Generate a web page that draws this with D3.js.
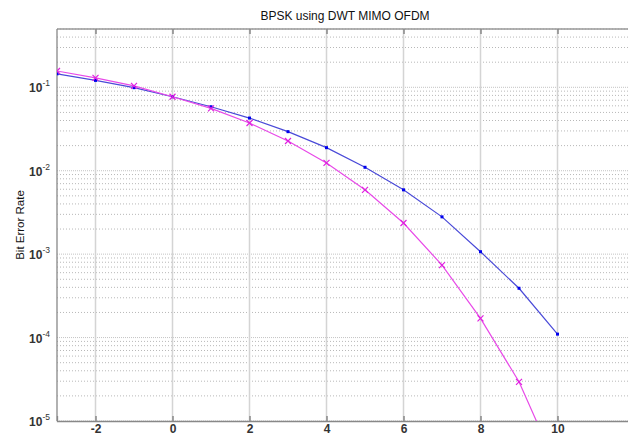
<!DOCTYPE html>
<html>
<head>
<meta charset="utf-8">
<script src="https://cdn.jsdelivr.net/npm/d3@7"></script>
<style>
  body { margin: 0; background: #fff; }
  text { font-family: "Liberation Sans", Arial, sans-serif; }
</style>
</head>
<body>
<div id="chart"></div>
<script>
// data
var snr = [-3, -2, -1, 0, 1, 2, 3, 4, 5, 6, 7, 8, 9, 10];
var berBlue = [0.145, 0.121, 0.099, 0.077, 0.0585, 0.0428, 0.0294, 0.0189, 0.011, 0.0059, 0.0028, 0.00107, 0.00039, 0.00011];
var berMagenta = [0.157, 0.130, 0.104, 0.077, 0.056, 0.0373, 0.0227, 0.0124, 0.0059, 0.00236, 0.00074, 0.00017, 0.0000295, 0.0000027];
var xTicks = [-2, 0, 2, 4, 6, 8, 10];
var yDecades = [-5, -4, -3, -2, -1];

// set the dimensions and margins of the graph
var W = 628, H = 437;
var margin = {top: 29, left: 57, bottom: 16},
    plotRight = 634.5;

var x = d3.scaleLinear().domain([-3, 12]).range([margin.left, plotRight]);
var y = d3.scaleLog().domain([1e-5, 0.5]).range([H - margin.bottom, margin.top]);

var svg = d3.select("#chart").append("svg")
    .attr("width", W)
    .attr("height", H);

svg.append("clipPath").attr("id", "clip")
  .append("rect")
    .attr("x", margin.left)
    .attr("y", margin.top)
    .attr("width", plotRight - margin.left)
    .attr("height", y.range()[0] - margin.top);

var grid = svg.append("g");

// minor y grid (dotted)
var minors = [];
yDecades.forEach(function(e) {
  for (var k = 2; k <= 9; k++) {
    var v = k * Math.pow(10, e);
    if (v <= 0.5) minors.push(v);
  }
});
grid.selectAll(".minor")
    .data(minors)
  .enter().append("line")
    .attr("x1", margin.left).attr("x2", plotRight)
    .attr("y1", function(d) { return y(d); })
    .attr("y2", function(d) { return y(d); })
    .style("stroke", "#b8b8b8")
    .style("stroke-width", 1)
    .style("stroke-dasharray", "1,2");

// decade y grid
grid.selectAll(".major")
    .data(yDecades)
  .enter().append("line")
    .attr("x1", margin.left).attr("x2", plotRight)
    .attr("y1", function(d) { return y(Math.pow(10, d)); })
    .attr("y2", function(d) { return y(Math.pow(10, d)); })
    .style("stroke", "#c4c4c4")
    .style("stroke-width", 1)
    .style("stroke-dasharray", "1,1");

// x grid
grid.selectAll(".xg")
    .data(xTicks)
  .enter().append("line")
    .attr("x1", function(d) { return x(d); })
    .attr("x2", function(d) { return x(d); })
    .attr("y1", margin.top).attr("y2", y.range()[0])
    .style("stroke", "#d4d4d4")
    .style("stroke-width", 1.5);

// box
svg.append("line")
    .attr("x1", margin.left).attr("x2", plotRight)
    .attr("y1", margin.top).attr("y2", margin.top)
    .style("stroke", "#999").style("stroke-width", 1.3);
svg.append("g")
    .attr("transform", "translate(0," + y.range()[0] + ")")
    .call(d3.axisBottom(x).tickValues(xTicks).tickSize(-5).tickPadding(3).tickFormat(d3.format("d")))
    .call(function(g) {
      g.select(".domain").style("stroke", "#888").style("stroke-width", 1.3);
      g.selectAll(".tick line").style("stroke", "#888").style("stroke-width", 1.5);
      g.selectAll("text").style("font-size", "12px").style("font-weight", "bold").style("fill", "#333")
        .text(function(d) { return d < 0 ? "-" + Math.abs(d) : d; });
    });
svg.append("g")
    .call(d3.axisTop(x).tickValues(xTicks).tickSize(-5).tickFormat(""))
    .attr("transform", "translate(0," + margin.top + ")")
    .call(function(g) {
      g.select(".domain").remove();
      g.selectAll(".tick line").style("stroke", "#888").style("stroke-width", 1.5);
    });
svg.append("line")
    .attr("x1", margin.left).attr("x2", margin.left)
    .attr("y1", margin.top).attr("y2", y.range()[0])
    .style("stroke", "#888").style("stroke-width", 1.3);

// y tick labels 10^e
var yl = svg.selectAll(".ylab")
    .data(yDecades)
  .enter().append("text")
    .attr("x", 50)
    .attr("y", function(d) { return y(Math.pow(10, d)) + 5; })
    .attr("text-anchor", "end")
    .style("font-size", "12px")
    .style("fill", "#333");
yl.append("tspan").style("font-weight", "bold").text("10");
yl.append("tspan")
    .attr("dy", -6)
    .style("font-size", "8.5px")
    .text(function(d) { return "-" + Math.abs(d); });

// lines
var line = d3.line()
    .x(function(d) { return x(d[0]); })
    .y(function(d) { return y(d[1]); });

var plot = svg.append("g").attr("clip-path", "url(#clip)");
var blue = d3.zip(snr, berBlue);
var mag = d3.zip(snr, berMagenta);

plot.append("path").datum(blue)
    .attr("d", line)
    .style("fill", "none").style("stroke", "#4a4ad8").style("stroke-width", 1.2);
plot.append("path").datum(mag)
    .attr("d", line)
    .style("fill", "none").style("stroke", "#e84ae8").style("stroke-width", 1.2);

plot.selectAll(".dot")
    .data(blue)
  .enter().append("rect")
    .attr("x", function(d) { return x(d[0]) - 1.5; })
    .attr("y", function(d) { return y(d[1]) - 1.5; })
    .attr("width", 3).attr("height", 3)
    .style("fill", "#0000ee");

plot.selectAll(".cross")
    .data(mag)
  .enter().append("path")
    .attr("d", function(d) {
      var cx = x(d[0]), cy = y(d[1]), s = 3;
      return "M" + (cx - s) + "," + (cy - s) + "L" + (cx + s) + "," + (cy + s) +
             "M" + (cx - s) + "," + (cy + s) + "L" + (cx + s) + "," + (cy - s);
    })
    .style("stroke", "#e020e0").style("stroke-width", 1.2).style("fill", "none");

// title
svg.append("text")
    .attr("x", 345)
    .attr("y", 20)
    .attr("text-anchor", "middle")
    .style("font-size", "12px")
    .style("fill", "#111")
    .text("BPSK using DWT MIMO OFDM");

// y label
svg.append("text")
    .attr("transform", "translate(24," + 225 + ") rotate(-90)")
    .attr("text-anchor", "middle")
    .style("font-size", "11.5px")
    .style("fill", "#111")
    .text("Bit Error Rate");
</script>
</body>
</html>
